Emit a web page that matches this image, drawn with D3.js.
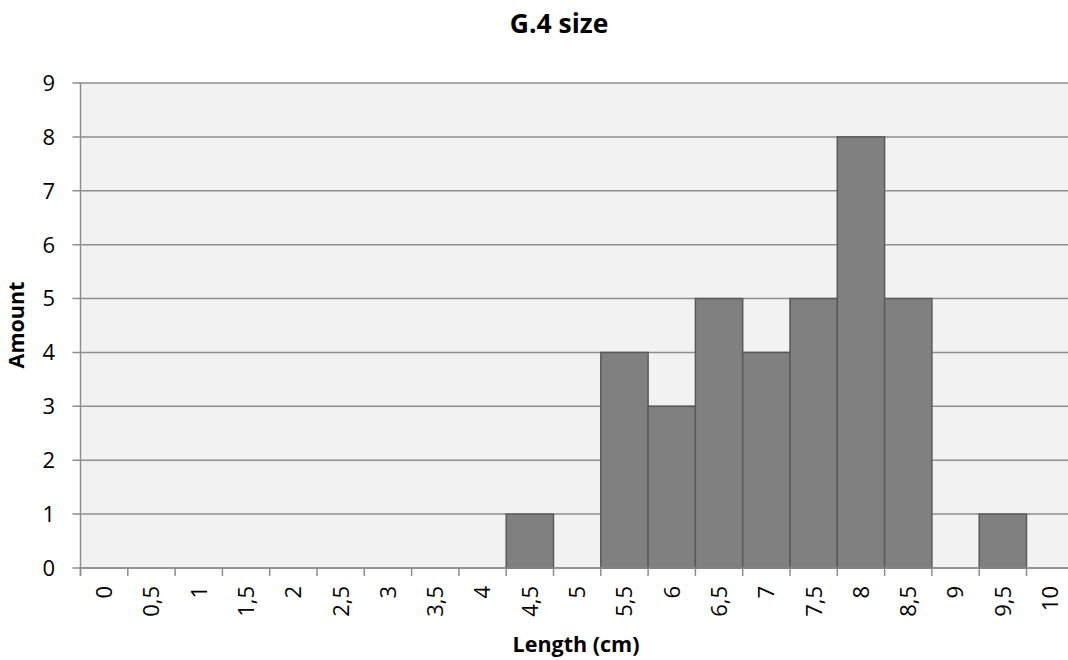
<!DOCTYPE html>
<html><head><meta charset="utf-8">
<script src="https://cdn.jsdelivr.net/npm/d3@7"></script>
<style>body{margin:0;background:#fff;} text{font-family:"Open Sans",sans-serif;}</style>
</head><body>
<svg id="c" width="1068" height="660"></svg>
<script>
const categories = ["0","0,5","1","1,5","2","2,5","3","3,5","4","4,5","5","5,5","6","6,5","7","7,5","8","8,5","9","9,5","10"];
const amounts = [0,0,0,0,0,0,0,0,0,1,0,4,3,5,4,5,8,5,0,1,0];
const yTicks = [0,1,2,3,4,5,6,7,8,9];
const title = "G.4 size";
const xTitle = "Length (cm)";
const yTitle = "Amount";

(function(){
const svg = d3.select("#c");
const pL = 80.5, pR = 80.5 + 21*47.3, pT = 83, pB = 568;
const x = d3.scaleBand().domain(categories).range([pL, pR]).padding(0);
const y = d3.scaleLinear().domain([0, 9]).range([pB, pT]);
const gridColor = "#8e8e8e";

svg.append("rect").attr("x", pL).attr("y", pT).attr("width", pR-pL).attr("height", pB-pT).attr("fill", "#f2f2f2");

svg.append("g").selectAll("line").data(yTicks).join("line")
  .attr("x1", pL-8).attr("x2", pR).attr("y1", d=>y(d)).attr("y2", d=>y(d))
  .attr("stroke", gridColor).attr("stroke-width", 1.5);

svg.append("g").selectAll("rect").data(categories.map((c,i)=>({c, v: amounts[i]})).filter(d=>d.v>0)).join("rect")
  .attr("x", d=>x(d.c)).attr("width", x.bandwidth())
  .attr("y", d=>y(d.v)).attr("height", d=>y(0)-y(d.v))
  .attr("fill", "#808080").attr("stroke", "#5a5a5a").attr("stroke-width", 1.5);

svg.append("line").attr("x1", pL).attr("x2", pL).attr("y1", pT).attr("y2", pB+8).attr("stroke", gridColor).attr("stroke-width", 1.5);
const bounds = categories.map(c=>x(c)).concat([pR]);
svg.append("g").selectAll("line").data(bounds).join("line")
  .attr("x1", d=>d).attr("x2", d=>d).attr("y1", pB).attr("y2", pB+8)
  .attr("stroke", gridColor).attr("stroke-width", 1.5);
svg.append("line").attr("x1", pL).attr("x2", pR).attr("y1", pB).attr("y2", pB).attr("stroke", gridColor).attr("stroke-width", 1.5);

svg.append("g").selectAll("text").data(yTicks).join("text")
  .attr("x", 55).attr("y", d=>y(d)).attr("dy", "0.36em").attr("text-anchor", "end")
  .attr("font-size", 22).attr("fill", "#000").text(d=>d);

svg.append("g").selectAll("text").data(categories).join("text")
  .attr("transform", c=>`translate(${x(c)+x.bandwidth()/2},${pB+18}) rotate(-90)`)
  .attr("text-anchor", "end").attr("dy", "0.36em")
  .attr("font-size", 22).attr("fill", "#000").text(c=>c);

svg.append("text").attr("x", 559).attr("y", 33).attr("text-anchor", "middle")
  .attr("font-size", 26.5).attr("font-weight", "bold").text(title);
svg.append("text").attr("x", 576).attr("y", 652).attr("text-anchor", "middle")
  .attr("font-size", 21.5).attr("font-weight", "bold").text(xTitle);
svg.append("text").attr("transform", "translate(24,325) rotate(-90)").attr("text-anchor", "middle")
  .attr("font-size", 21.5).attr("font-weight", "bold").text(yTitle);
})();
</script>
</body></html>
